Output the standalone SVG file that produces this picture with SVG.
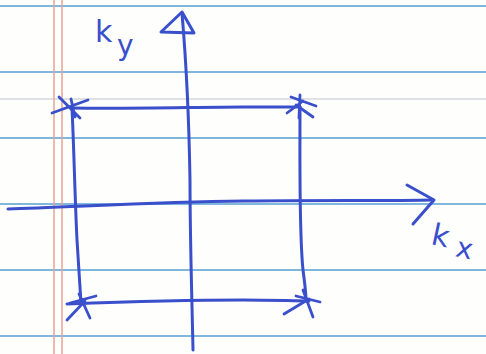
<svg xmlns="http://www.w3.org/2000/svg" width="486" height="354" viewBox="0 0 486 354">
  <style>
    .rule { stroke: #7fb8dc; stroke-width: 2; fill: none; }
    .faint { stroke: #d4d8dc; stroke-width: 1.5; fill: none; }
    .margin { stroke: #e6a594; stroke-width: 1.5; fill: none; }
    .pen { stroke: #3a4fcc; stroke-width: 3; fill: none; stroke-linecap: round; stroke-linejoin: round; }
    .star { stroke: #3a4fcc; stroke-width: 2.8; fill: none; stroke-linecap: round; }
    .lbl { fill: #3a4fcc; font-family: "DejaVu Sans", sans-serif; }
  </style>
  <rect width="486" height="354" fill="#fefefc"/>
  <g id="paper">
    <line class="rule" x1="0" y1="6" x2="486" y2="6"/>
    <line class="rule" x1="0" y1="72" x2="486" y2="72"/>
    <line class="faint" x1="0" y1="99" x2="486" y2="99"/>
    <line class="rule" x1="0" y1="138" x2="486" y2="138"/>
    <line class="rule" x1="0" y1="204" x2="486" y2="204"/>
    <line class="rule" x1="0" y1="270" x2="486" y2="270"/>
    <line class="rule" x1="0" y1="336" x2="486" y2="336"/>
    <line class="margin" x1="54" y1="0" x2="54" y2="354"/>
    <line class="margin" x1="62" y1="0" x2="62" y2="354"/>
  </g>
  <g id="connectors">
    <path id="ky-axis" class="pen" d="M193 350 C192 300 190 240 190 180 C189 120 186 60 182 13"/>
    <path id="ky-head" class="pen" d="M182 12 L161 32 L194 33 Z"/>
    <path id="kx-axis" class="pen" d="M8 209 C60 208 150 202 243 201 C320 200 390 201 433 200"/>
    <path id="kx-head" class="pen" d="M407 185 L434 200 L413 224"/>
    <path id="rect-top" class="pen" d="M72 108 C130 109 200 107 243 107 C270 107 290 107 300 107"/>
    <path id="rect-left" class="pen" d="M72 108 C74 150 75 200 77 240 C79 270 80 290 81 303"/>
    <path id="rect-bottom" class="pen" d="M67 304 C120 302 200 300 243 300 C270 300 295 301 309 301"/>
    <path id="rect-right" class="pen" d="M300 107 C300 160 299 230 303 270 C305 285 306 295 306 300"/>
  </g>
  <g id="star-tl">
    <path class="star" d="M52 113 L88 100 M59 97 L80 118 M71 99 L75 117"/>
  </g>
  <g id="star-tr">
    <path class="star" d="M287 113 L303 101 M291 97 L316 106 M296 105 L313 117 M300 95 L299 118"/>
  </g>
  <g id="star-bl">
    <path class="star" d="M67 320 L85 301 M79 294 L90 318 M70 303 L96 296"/>
  </g>
  <g id="star-br">
    <path class="star" d="M284 314 L309 299 M303 290 L313 317 M296 296 L320 302"/>
  </g>
  <g id="label-ky">
    <text class="lbl" x="95" y="42" font-size="30">k</text>
    <text class="lbl" x="117" y="55" font-size="28">y</text>
  </g>
  <g id="label-kx">
    <text class="lbl" x="432" y="246" font-size="30" transform="rotate(12 440 236)">k</text>
    <text class="lbl" x="456" y="258" font-size="28" transform="rotate(12 465 250)">x</text>
  </g>
</svg>
